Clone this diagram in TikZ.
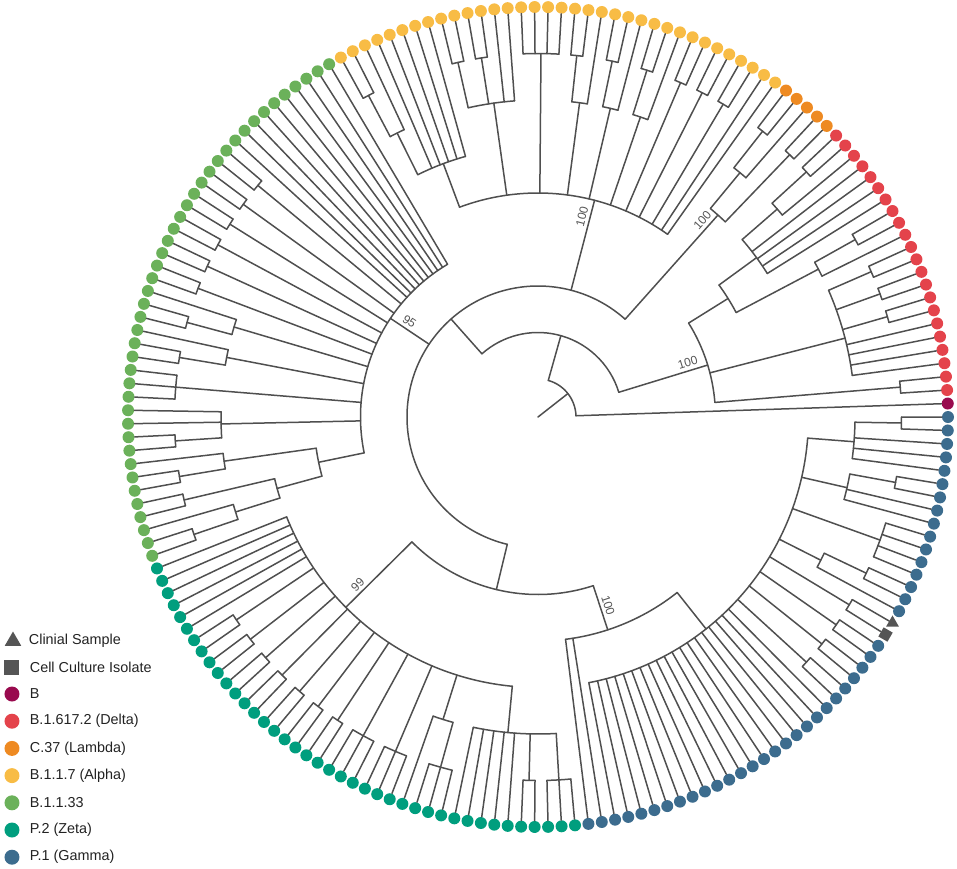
\documentclass[tikz,border=0pt]{standalone}
\usepackage{fontspec}
\setmainfont{Liberation Sans}
\usepackage{tikz}
\usetikzlibrary{positioning,shapes.geometric}
\usepackage{xcolor}
\definecolor{treegray}{HTML}{4F4F4F}
\definecolor{markgray}{HTML}{555555}
\definecolor{labgray}{HTML}{555555}
\definecolor{legblack}{HTML}{222222}
\definecolor{lineageb}{HTML}{990A4E}
\definecolor{deltared}{HTML}{E4434B}
\definecolor{lambdaorange}{HTML}{EE8A22}
\definecolor{alphayellow}{HTML}{F8BC45}
\definecolor{bgreen}{HTML}{6BB15A}
\definecolor{zetateal}{HTML}{009E7E}
\definecolor{gammablue}{HTML}{3C6C8E}

\newcommand{\tipstep}{1.884817}% 360/191 degrees per tip
\newcommand{\rlev}[1]{(410-46.5*(#1))}% radius of a node at height #1
\newcommand{\tipsof}[2]{\foreach \k in {#2}{\draw[branch] ({\k*\tipstep}:{\rlev{#1}}) -- (t\k);}}
\newcommand{\clade}[6]{%
  \coordinate (#1) at ({(#4)*\tipstep}:{\rlev{#2}});
  \draw[branch] ({(#4)*\tipstep}:{\rlev{#3}}) -- (#1);
  \draw[branch] ({(#5)*\tipstep}:{\rlev{#2}}) arc[start angle={(#5)*\tipstep}, end angle={(#6)*\tipstep}, radius={\rlev{#2}}];}
\newcommand{\pair}[4]{\clade{#1}{1}{#2}{(#3+#4)/2}{#3}{#4}\tipsof{1}{#3,#4}}

\begin{document}
\begin{tikzpicture}[
    x=1pt, y=1pt,
    branch/.style={draw=treegray, line width=1.5pt, line cap=round},
    tipdot/.style={circle, inner sep=0pt, minimum size=12pt},
    tipsq/.style={rectangle, inner sep=0pt, minimum size=10.5pt, fill=markgray},
    tiptri/.style={regular polygon, regular polygon sides=3, inner sep=0pt, minimum size=15pt, fill=markgray},
    legdot/.style={circle, inner sep=0pt, minimum size=15pt},
    legtext/.style={inner sep=0pt, anchor=west, font=\fontsize{14.4}{16}\selectfont, text=legblack},
    bslab/.style={anchor=south, inner sep=3.5pt, font=\fontsize{12}{12}\selectfont, text=labgray}
]
\useasboundingbox (-538,-451) rectangle (419,417);

% ---- Tips ----
\node[tipdot, fill=lineageb] (t1) at ({1*\tipstep}:410) {};
\foreach \k in {2,...,23} {\node[tipdot, fill=deltared] (t\k) at ({\k*\tipstep}:410) {};}
\foreach \k in {24,...,28} {\node[tipdot, fill=lambdaorange] (t\k) at ({\k*\tipstep}:410) {};}
\foreach \k in {29,...,63} {\node[tipdot, fill=alphayellow] (t\k) at ({\k*\tipstep}:410) {};}
\foreach \k in {64,...,106} {\node[tipdot, fill=bgreen] (t\k) at ({\k*\tipstep}:410) {};}
\foreach \k in {107,...,146} {\node[tipdot, fill=zetateal] (t\k) at ({\k*\tipstep}:410) {};}
\foreach \k in {147,...,173} {\node[tipdot, fill=gammablue] (t\k) at ({\k*\tipstep}:410) {};}
\foreach \k in {176,...,191} {\node[tipdot, fill=gammablue] (t\k) at ({\k*\tipstep}:410) {};}
\node[tipsq, rotate=-30] (t174) at ({174*\tipstep}:410) {};
\node[tiptri] (t175) at ({175*\tipstep}:410) {};

% ---- Backbone ----
\coordinate (root) at (0,0);
\coordinate (nA) at ({20.211*\tipstep}:38);
\draw[branch] (root) -- (nA);
\draw[branch] ({1*\tipstep}:38) arc[start angle={1*\tipstep}, end angle={39.4225*\tipstep}, radius=38];
\tipsof{8}{1}
\clade{nB}{7}{8}{39.4225}{9.031}{69.814}
\clade{nC}{6}{7}{69.814}{25.625}{136.052}
\clade{zg}{5}{6}{136.052}{119.227}{152.877}

% ---- Delta ----
\clade{delta}{5}{7}{9.031}{2.5}{16.95}
\pair{rdA}{5}{2}{3}
\clade{rdB}{2}{5}{7.643}{4}{12.5}
\tipsof{2}{4,5,6,7}
\pair{rdB1}{2}{8}{9}
\pair{rdB2}{2}{10}{11}
\pair{rdB3}{2}{12}{13}
\clade{rdC}{4}{5}{16.95}{14.75}{19.15}
\clade{rdC1}{2}{4}{14.75}{14}{15.5}
\tipsof{2}{14}
\pair{rdC1a}{2}{15}{16}
\clade{rdC2}{3}{4}{19.15}{17}{21.75}
\tipsof{3}{17,18,19,20}
\clade{rdC2a}{2}{3}{21.75}{21}{22.5}
\tipsof{2}{21}
\pair{rdC2b}{2}{22}{23}

% ---- Lambda ----
\clade{lambda}{3}{6}{25.625}{24.5}{26.75}
\pair{lmA}{3}{24}{25}
\clade{lmB}{2}{3}{26.75}{26}{27.5}
\tipsof{2}{26}
\pair{lmB1}{2}{27}{28}

% ---- Alpha ----
\clade{alpha}{4}{6}{39.99}{29}{58.625}
\tipsof{4}{29,30}
\pair{alA}{4}{31}{32}
\pair{alB}{4}{33}{34}
\pair{alC}{4}{35}{36}
\clade{alD}{2}{4}{37.75}{37}{38.5}
\tipsof{2}{37}
\pair{alD1}{2}{38}{39}
\clade{alE}{2}{4}{40.75}{40}{41.5}
\tipsof{2}{40}
\pair{alE1}{2}{41}{42}
\clade{alF}{2}{4}{43.75}{43}{44.5}
\tipsof{2}{43}
\pair{alF1}{2}{44}{45}
\clade{alG}{1}{4}{47.5}{46}{49}
\tipsof{1}{46,...,49}
\clade{alH}{2}{4}{52}{50}{54.5}
\tipsof{2}{50,51}
\pair{alH1}{2}{52}{53}
\pair{alH2}{2}{54}{55}
\clade{alI}{3}{4}{58.625}{56}{61.75}
\tipsof{3}{56,...,60}
\clade{alI1}{2}{3}{61.75}{61}{62.5}
\tipsof{2}{61}
\pair{alI2}{2}{62}{63}

% ---- B.1.1.33 ----
\clade{bgrn}{5}{6}{77.588}{64}{101.6875}
\tipsof{5}{64,...,73}
\pair{gA}{5}{74}{75}
\pair{gB}{5}{76}{77}
\pair{gC}{5}{78}{79}
\pair{gD}{5}{80}{81}
\pair{gE}{5}{82}{83}
\pair{gF}{5}{84}{85}
\clade{gG}{2}{5}{86.75}{86}{87.5}
\tipsof{2}{86}
\pair{gG1}{2}{87}{88}
\clade{gH}{2}{5}{89.75}{89}{90.5}
\tipsof{2}{89}
\pair{gH1}{2}{90}{91}
\clade{gI}{1}{5}{93}{92}{94}
\tipsof{1}{92,93,94}
\clade{gJ}{2}{5}{96.1667}{95}{97.5}
\tipsof{2}{95,96}
\pair{gJ1}{2}{97}{98}
\clade{gK}{4}{5}{101.6875}{99.75}{103.625}
\clade{gK1}{2}{4}{99.75}{99}{100.5}
\tipsof{2}{99}
\pair{gK1a}{2}{100}{101}
\clade{gK2}{3}{4}{103.625}{102.5}{104.75}
\pair{gK2a}{3}{102}{103}
\clade{gK2b}{2}{3}{104.75}{104}{105.5}
\tipsof{2}{104}
\pair{gK2c}{2}{105}{106}

% ---- Zeta ----
\clade{zeta}{3}{5}{119.227}{107}{140.357}
\tipsof{3}{107,...,112}
\pair{zA}{3}{113}{114}
\pair{zB}{3}{115}{116}
\pair{zC}{3}{117}{118}
\pair{zD}{3}{119}{120}
\pair{zE}{3}{121}{122}
\pair{zF}{3}{123}{124}
\pair{zG}{3}{125}{126}
\clade{zH}{1}{3}{128}{127}{129}
\tipsof{1}{127,128,129}
\clade{zI}{1}{3}{131}{130}{132}
\tipsof{1}{130,131,132}
\clade{zJ}{2}{3}{134}{133}{135}
\tipsof{2}{133}
\clade{zJ1}{1}{2}{135}{134}{136}
\tipsof{1}{134,135,136}
\clade{zK}{2}{3}{140.357}{137}{145}
\tipsof{2}{137,...,141}
\pair{zK1}{2}{142}{143}
\clade{zK2}{1}{2}{145}{144}{146}
\tipsof{1}{144,145,146}

% ---- Gamma ----
\clade{gamma}{4}{5}{152.877}{147}{163.631}
\tipsof{4}{147,148}
\clade{gmP}{3}{4}{163.631}{149}{188.625}
\tipsof{3}{149,...,167}
\pair{gmA}{3}{168}{169}
\pair{gmB}{3}{170}{171}
\pair{gmC}{3}{172}{173}
\pair{gmD}{3}{174}{175}
\clade{gmE}{2}{3}{176.75}{176}{177.5}
\tipsof{2}{176}
\pair{gmE1}{2}{177}{178}
\clade{gmF}{1}{3}{180.5}{179}{182}
\tipsof{1}{179,...,182}
\clade{gmG}{2}{3}{184.1667}{183}{185.5}
\tipsof{2}{183,184}
\pair{gmG1}{2}{185}{186}
\clade{gmH}{2}{3}{188.625}{187}{190.5}
\tipsof{2}{187,188,189}
\pair{gmH1}{2}{190}{191}

% ---- Bootstrap values ----
\node[bslab, rotate=17.02] (bsDelta) at (17.02:159) {100};
\node[bslab, rotate=48.30] (bsLambda) at (48.30:256) {100};
\node[bslab, rotate=75.37] (bsAlpha) at (75.37:205) {100};
\node[bslab, rotate=-33.76] (bsGreen) at (146.24:160) {95};
\node[bslab, rotate=44.72] (bsZeta) at (224.72:246) {99};
\node[bslab, rotate=-71.86] (bsGamma) at (288.14:201) {100};

% ---- Legend ----
\node[tiptri, minimum size=19pt] (lgClin) at (-525,-224) {};
\node[legtext, right=10pt of lgClin] {Clinial Sample};
\node[tipsq, minimum size=15pt] (lgCell) at (-526,-250) {};
\node[legtext, right=10pt of lgCell] {Cell Culture Isolate};
\node[legdot, fill=lineageb] (lgB) at (-526,-277) {};
\node[legtext, right=10pt of lgB] {B};
\node[legdot, fill=deltared] (lgDelta) at (-526,-304.2) {};
\node[legtext, right=10pt of lgDelta] {B.1.617.2 (Delta)};
\node[legdot, fill=lambdaorange] (lgLambda) at (-526,-331.4) {};
\node[legtext, right=10pt of lgLambda] {C.37 (Lambda)};
\node[legdot, fill=alphayellow] (lgAlpha) at (-526,-358.6) {};
\node[legtext, right=10pt of lgAlpha] {B.1.1.7 (Alpha)};
\node[legdot, fill=bgreen] (lgGreen) at (-526,-385.8) {};
\node[legtext, right=10pt of lgGreen] {B.1.1.33};
\node[legdot, fill=zetateal] (lgZeta) at (-526,-413) {};
\node[legtext, right=10pt of lgZeta] {P.2 (Zeta)};
\node[legdot, fill=gammablue] (lgGamma) at (-526,-440.2) {};
\node[legtext, right=10pt of lgGamma] {P.1 (Gamma)};

\end{tikzpicture}
\end{document}
